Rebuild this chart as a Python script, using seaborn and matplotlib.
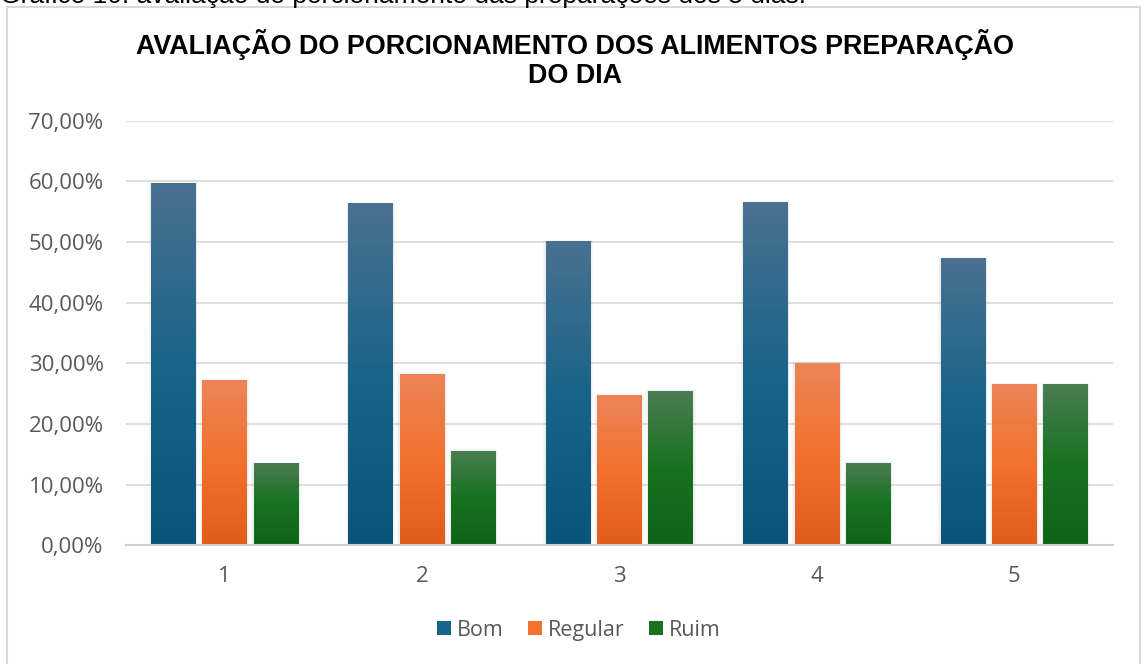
import numpy as np
import pandas as pd
import matplotlib
matplotlib.use("Agg")
import matplotlib.pyplot as plt
import seaborn as sns
from matplotlib.patches import Rectangle, Patch
from matplotlib.colors import LinearSegmentedColormap

# data
dias = ["1", "2", "3", "4", "5"]
bom = [59.6, 56.3, 50.0, 56.5, 47.2]
regular = [27.1, 28.2, 24.6, 30.0, 26.4]
ruim = [13.4, 15.5, 25.4, 13.5, 26.4]
series = ["Bom", "Regular", "Ruim"]

df = pd.DataFrame({
    "Dia": dias * 3,
    "Valor": bom + regular + ruim,
    "Avaliacao": [s for s in series for _ in dias],
})

# gradient colours (top, middle, bottom) for each series
grad = {
    "Bom": ["#4a7191", "#196489", "#0a5479"],
    "Regular": ["#ec8459", "#f2712d", "#e05d1a"],
    "Ruim": ["#4a7d52", "#17721f", "#0f6318"],
}
solid = {k: v[1] for k, v in grad.items()}

sns.set_theme(style="white")
plt.rcParams["font.family"] = ["Open Sans", "DejaVu Sans"]

fig = plt.figure(figsize=(11.44, 6.64), dpi=100)
ax = fig.add_axes([0.110, 0.179, 0.863, 0.639])

sns.barplot(data=df, x="Dia", y="Valor", hue="Avaliacao", palette=solid,
            width=0.78, gap=0.13, ax=ax, legend=False, zorder=3,
            linewidth=0, edgecolor="none")

ax.set_ylim(0, 70)
ax.set_xlim(-0.5, 4.5)
ax.set_yticks(np.arange(0, 71, 10))
ax.set_yticklabels([f"{v},00%" for v in range(0, 71, 10)], color="#595959", fontsize=16)
ax.set_xticklabels(dias, color="#595959", fontsize=16)
ax.tick_params(axis="y", length=0, pad=16)
ax.tick_params(axis="x", length=0, pad=15)
ax.set_xlabel("")
ax.set_ylabel("")
ax.grid(axis="y", color="#d9d9d9", linewidth=1.2, zorder=0)
for side in ["top", "right", "left"]:
    ax.spines[side].set_visible(False)
ax.spines["bottom"].set_color("#d0d0d0")
ax.spines["bottom"].set_linewidth(1.5)
ax.spines["bottom"].set_zorder(5)

# vertical gradient fill + soft shadow on each bar
bars = list(ax.patches)
for i, p in enumerate(bars):
    name = series[i // len(dias)]
    cmap = LinearSegmentedColormap.from_list(name, grad[name][::-1])
    x0, y0 = p.get_x(), p.get_y()
    w, h = p.get_width(), p.get_height()
    for k, a in [(0.012, 0.05), (0.007, 0.07)]:
        ax.add_patch(Rectangle((x0 - k, y0), w + 2 * k, h + k * 25,
                               facecolor="#808080", alpha=a, edgecolor="none", zorder=2))
    g = np.linspace(0, 1, 512).reshape(-1, 1)
    ax.imshow(g, cmap=cmap, aspect="auto", origin="lower",
              extent=(x0, x0 + w, y0, y0 + h), zorder=3.5, interpolation="nearest")
ax.set_xlim(-0.5, 4.5)
ax.set_ylim(0, 70)

fig.text(0.503, 1 - 59 / 664, "AVALIAÇÃO DO PORCIONAMENTO DOS ALIMENTOS PREPARAÇÃO\nDO DIA",
         ha="center", va="center", fontsize=19.4, fontweight="bold", color="black",
         family=["Liberation Sans", "DejaVu Sans"], linespacing=1.12)

# caption cut off at the top of the image
fig.text(0.0, 1 - 3.5 / 664, "Gráfico 10: avaliação do porcionamento das preparações dos 5 dias.",
         ha="left", va="baseline", fontsize=19, color="black",
         family=["Liberation Sans", "DejaVu Sans"])

# outer frame
fig.patches.append(Rectangle((7 / 1144, -0.01), 1133 / 1144, 1 - 7 / 664 + 0.01,
                             transform=fig.transFigure, fill=False,
                             edgecolor="#d9d9d9", linewidth=1.5))

handles = [Patch(facecolor=solid[s], edgecolor="none") for s in series]
fig.legend(handles, series, loc="center", bbox_to_anchor=(0.506, 0.051), ncol=3,
           frameon=False, fontsize=15.5, handlelength=0.65, handleheight=0.65,
           handletextpad=0.3, columnspacing=1.1, labelcolor="#595959")

fig.savefig("out.png", dpi=100)
